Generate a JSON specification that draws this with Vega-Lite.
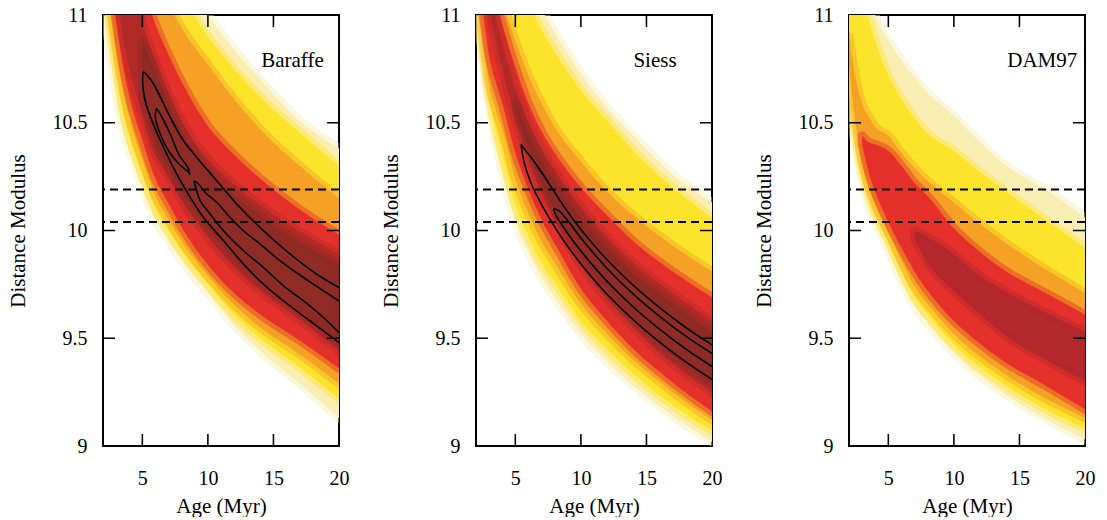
{
"$schema": "https://vega.github.io/schema/vega-lite/v6.json",
"padding": {"left": 6, "top": 4, "right": 2, "bottom": 0},
"spacing": 29,
"config": {
  "view": {"stroke": "black", "strokeWidth": 2},
  "area": {"strokeWidth": 9, "strokeOpacity": 0.45, "strokeJoin": "round"},
  "axis": {"domain": false, "ticks": false, "grid": false, "labelFont": "Liberation Serif", "labelFontSize": 20, "labelColor": "black", "labelFlush": false, "titleFont": "Liberation Serif", "titleFontSize": 21, "titleFontWeight": "normal", "titleColor": "black"}
},
"datasets": {
  "bar": [
    {"a":2,"p":11.08,"y":11.20,"o":11.30,"r":11.43,"d":11.58,"dl":11.7,"dh":11.7,"h":11.86,"rh":11.97,"oh":12.08,"yh":12.3,"ph":12.4},
    {"a":2.5,"p":10.84,"y":10.96,"o":11.06,"r":11.19,"d":11.34,"dl":11.45,"dh":11.45,"h":11.64,"rh":11.76,"oh":11.90,"yh":12.1,"ph":12.2},
    {"a":3,"p":10.64,"y":10.75,"o":10.85,"r":10.97,"d":11.12,"dl":11.25,"dh":11.25,"h":11.46,"rh":11.59,"oh":11.75,"yh":11.95,"ph":12.05},
    {"a":3.5,"p":10.48,"y":10.56,"o":10.66,"r":10.77,"d":10.91,"dl":11.1,"dh":11.1,"h":11.31,"rh":11.45,"oh":11.62,"yh":11.81,"ph":11.92},
    {"a":4,"p":10.375,"y":10.435,"o":10.525,"r":10.625,"d":10.755,"dl":10.97,"dh":10.97,"h":11.18,"rh":11.33,"oh":11.51,"yh":11.70,"ph":11.80},
    {"a":5,"p":10.20,"y":10.255,"o":10.33,"r":10.42,"d":10.545,"dl":10.62,"dh":10.88,"h":10.964,"rh":11.13,"oh":11.33,"yh":11.50,"ph":11.60},
    {"a":6,"p":10.05,"y":10.10,"o":10.16,"r":10.24,"d":10.36,"dl":10.40,"dh":10.74,"h":10.787,"rh":10.957,"oh":11.18,"yh":11.35,"ph":11.45},
    {"a":7,"p":9.95,"y":10.00,"o":10.05,"r":10.125,"d":10.25,"dl":10.29,"dh":10.59,"h":10.637,"rh":10.815,"oh":11.05,"yh":11.21,"ph":11.32},
    {"a":8,"p":9.86,"y":9.905,"o":9.95,"r":10.015,"d":10.14,"dl":10.18,"dh":10.46,"h":10.508,"rh":10.69,"oh":10.94,"yh":11.10,"ph":11.20},
    {"a":10,"p":9.71,"y":9.75,"o":9.79,"r":9.84,"d":9.97,"dl":10.01,"dh":10.28,"h":10.33,"rh":10.485,"oh":10.77,"yh":10.90,"ph":11.0},
    {"a":12,"p":9.56,"y":9.61,"o":9.655,"r":9.71,"d":9.83,"dl":9.87,"dh":10.165,"h":10.215,"rh":10.352,"oh":10.61,"yh":10.75,"ph":10.84},
    {"a":14,"p":9.44,"y":9.50,"o":9.55,"r":9.61,"d":9.72,"dl":9.76,"dh":10.067,"h":10.117,"rh":10.24,"oh":10.47,"yh":10.62,"ph":10.70},
    {"a":17,"p":9.29,"y":9.365,"o":9.425,"r":9.49,"d":9.585,"dl":9.625,"dh":9.945,"h":9.995,"rh":10.098,"oh":10.30,"yh":10.455,"ph":10.51},
    {"a":20,"p":9.13,"y":9.22,"o":9.29,"r":9.36,"d":9.44,"dl":9.48,"dh":9.84,"h":9.89,"rh":9.98,"oh":10.15,"yh":10.30,"ph":10.38}
  ],
  "sie": [
    {"a":2,"p":11.08,"y":11.12,"o":11.18,"r":11.31,"d":11.45,"dl":11.47,"dh":11.47,"h":11.50,"rh":11.59,"oh":11.66,"yh":11.95,"ph":12.09},
    {"a":2.5,"p":10.80,"y":10.84,"o":10.90,"r":11.03,"d":11.25,"dl":11.27,"dh":11.27,"h":11.29,"rh":11.39,"oh":11.47,"yh":11.77,"ph":11.9},
    {"a":3,"p":10.58,"y":10.62,"o":10.68,"r":10.81,"d":11.03,"dl":11.08,"dh":11.08,"h":11.13,"rh":11.22,"oh":11.32,"yh":11.62,"ph":11.75},
    {"a":3.5,"p":10.41,"y":10.47,"o":10.56,"r":10.69,"d":10.88,"dl":10.93,"dh":10.93,"h":10.99,"rh":11.08,"oh":11.18,"yh":11.50,"ph":11.62},
    {"a":4,"p":10.27,"y":10.35,"o":10.47,"r":10.59,"d":10.75,"dl":10.81,"dh":10.81,"h":10.87,"rh":10.96,"oh":11.07,"yh":11.39,"ph":11.51},
    {"a":5,"p":10.04,"y":10.12,"o":10.24,"r":10.36,"d":10.52,"dl":10.58,"dh":10.60,"h":10.66,"rh":10.76,"oh":10.88,"yh":11.21,"ph":11.32},
    {"a":6,"p":9.90,"y":9.975,"o":10.08,"r":10.19,"d":10.34,"dl":10.38,"dh":10.45,"h":10.50,"rh":10.59,"oh":10.72,"yh":11.06,"ph":11.16},
    {"a":7,"p":9.78,"y":9.85,"o":9.95,"r":10.05,"d":10.18,"dl":10.22,"dh":10.33,"h":10.38,"rh":10.46,"oh":10.59,"yh":10.93,"ph":11.03},
    {"a":8,"p":9.69,"y":9.76,"o":9.85,"r":9.94,"d":10.05,"dl":10.09,"dh":10.23,"h":10.28,"rh":10.36,"oh":10.48,"yh":10.83,"ph":10.92},
    {"a":10,"p":9.52,"y":9.58,"o":9.66,"r":9.73,"d":9.84,"dl":9.88,"dh":10.06,"h":10.11,"rh":10.20,"oh":10.32,"yh":10.65,"ph":10.73},
    {"a":12,"p":9.39,"y":9.45,"o":9.52,"r":9.58,"d":9.68,"dl":9.72,"dh":9.92,"h":9.97,"rh":10.07,"oh":10.18,"yh":10.51,"ph":10.57},
    {"a":14,"p":9.28,"y":9.335,"o":9.40,"r":9.45,"d":9.55,"dl":9.59,"dh":9.80,"h":9.85,"rh":9.95,"oh":10.07,"yh":10.37,"ph":10.44},
    {"a":17,"p":9.14,"y":9.19,"o":9.25,"r":9.295,"d":9.38,"dl":9.42,"dh":9.66,"h":9.71,"rh":9.81,"oh":9.93,"yh":10.20,"ph":10.26},
    {"a":20,"p":9.02,"y":9.07,"o":9.12,"r":9.16,"d":9.25,"dl":9.29,"dh":9.53,"h":9.58,"rh":9.69,"oh":9.81,"yh":10.06,"ph":10.13}
  ],
  "dam": [
    {"a":2,"p":10.64,"y":10.70,"o":10.76,"r":10.85,"d":10.85,"h":10.85,"rh":10.85,"oh":10.90,"yh":11.4,"ph":11.5},
    {"a":2.5,"p":10.38,"y":10.44,"o":10.50,"r":10.62,"d":10.62,"h":10.62,"rh":10.62,"oh":10.71,"yh":11.25,"ph":11.35},
    {"a":3,"p":10.23,"y":10.27,"o":10.32,"r":10.40,"d":10.42,"h":10.42,"rh":10.44,"oh":10.59,"yh":11.1,"ph":11.2},
    {"a":3.5,"p":10.12,"y":10.16,"o":10.20,"r":10.27,"d":10.33,"h":10.33,"rh":10.41,"oh":10.53,"yh":10.98,"ph":11.1},
    {"a":4,"p":10.04,"y":10.08,"o":10.12,"r":10.18,"d":10.29,"h":10.29,"rh":10.40,"oh":10.48,"yh":10.88,"ph":11.0},
    {"a":5,"p":9.91,"y":9.95,"o":9.99,"r":10.04,"d":10.2,"h":10.2,"rh":10.37,"oh":10.44,"yh":10.72,"ph":10.88},
    {"a":6,"p":9.77,"y":9.81,"o":9.86,"r":9.92,"d":10.08,"h":10.08,"rh":10.30,"oh":10.36,"yh":10.61,"ph":10.79},
    {"a":7,"p":9.65,"y":9.69,"o":9.74,"r":9.81,"d":9.96,"h":10.00,"rh":10.22,"oh":10.29,"yh":10.52,"ph":10.71},
    {"a":8,"p":9.57,"y":9.61,"o":9.66,"r":9.72,"d":9.85,"h":9.97,"rh":10.16,"oh":10.23,"yh":10.45,"ph":10.64},
    {"a":10,"p":9.43,"y":9.47,"o":9.52,"r":9.58,"d":9.72,"h":9.89,"rh":10.01,"oh":10.13,"yh":10.37,"ph":10.53},
    {"a":12,"p":9.325,"y":9.365,"o":9.415,"r":9.475,"d":9.61,"h":9.79,"rh":9.90,"oh":10.03,"yh":10.27,"ph":10.41},
    {"a":14,"p":9.237,"y":9.28,"o":9.33,"r":9.385,"d":9.51,"h":9.715,"rh":9.81,"oh":9.94,"yh":10.18,"ph":10.30},
    {"a":17,"p":9.125,"y":9.17,"o":9.22,"r":9.28,"d":9.40,"h":9.62,"rh":9.71,"oh":9.82,"yh":10.05,"ph":10.19},
    {"a":20,"p":9.03,"y":9.08,"o":9.13,"r":9.17,"d":9.30,"h":9.53,"rh":9.61,"oh":9.71,"yh":9.92,"ph":10.06}
  ],
  "bc": [
    {"c":1,"i":1,"a":20,"v":9.48},{"c":1,"i":2,"a":17.8,"v":9.58},{"c":1,"i":3,"a":15.77,"v":9.673},{"c":1,"i":4,"a":14.25,"v":9.75},{"c":1,"i":5,"a":12.72,"v":9.844},{"c":1,"i":6,"a":11.2,"v":9.952},{"c":1,"i":7,"a":9.67,"v":10.06},{"c":1,"i":8,"a":8.66,"v":10.153},{"c":1,"i":9,"a":7.64,"v":10.26},{"c":1,"i":10,"a":6.62,"v":10.385},{"c":1,"i":11,"a":5.73,"v":10.51},{"c":1,"i":12,"a":5.23,"v":10.6},{"c":1,"i":13,"a":5.02,"v":10.69},{"c":1,"i":14,"a":5.1,"v":10.735},{"c":1,"i":15,"a":5.3,"v":10.725},{"c":1,"i":16,"a":5.86,"v":10.68},{"c":1,"i":17,"a":7.13,"v":10.525},{"c":1,"i":18,"a":8.15,"v":10.416},{"c":1,"i":19,"a":9.16,"v":10.339},{"c":1,"i":20,"a":10.69,"v":10.23},{"c":1,"i":21,"a":12.21,"v":10.122},{"c":1,"i":22,"a":14.25,"v":9.998},{"c":1,"i":23,"a":16.28,"v":9.89},{"c":1,"i":24,"a":18.31,"v":9.797},{"c":1,"i":25,"a":20,"v":9.735},
    {"c":2,"i":1,"a":6.07,"v":10.568},{"c":2,"i":2,"a":6.37,"v":10.54},{"c":2,"i":3,"a":7.13,"v":10.447},{"c":2,"i":4,"a":7.77,"v":10.354},{"c":2,"i":5,"a":8.53,"v":10.285},{"c":2,"i":6,"a":8.61,"v":10.26},{"c":2,"i":7,"a":8.53,"v":10.27},{"c":2,"i":8,"a":7.77,"v":10.31},{"c":2,"i":9,"a":7.0,"v":10.37},{"c":2,"i":10,"a":6.37,"v":10.447},{"c":2,"i":11,"a":5.99,"v":10.525},{"c":2,"i":12,"a":6.07,"v":10.568},
    {"c":3,"i":1,"a":20,"v":9.526},{"c":3,"i":2,"a":18.82,"v":9.596},{"c":3,"i":3,"a":17.29,"v":9.673},{"c":3,"i":4,"a":15.77,"v":9.743},{"c":3,"i":5,"a":14.25,"v":9.828},{"c":3,"i":6,"a":12.72,"v":9.906},{"c":3,"i":7,"a":11.2,"v":9.998},{"c":3,"i":8,"a":10.18,"v":10.076},{"c":3,"i":9,"a":9.42,"v":10.138},{"c":3,"i":10,"a":9.04,"v":10.207},{"c":3,"i":11,"a":8.96,"v":10.23},{"c":3,"i":12,"a":9.16,"v":10.223},{"c":3,"i":13,"a":9.93,"v":10.169},{"c":3,"i":14,"a":10.69,"v":10.13},{"c":3,"i":15,"a":11.7,"v":10.06},{"c":3,"i":16,"a":12.72,"v":9.998},{"c":3,"i":17,"a":13.99,"v":9.937},{"c":3,"i":18,"a":15.52,"v":9.859},{"c":3,"i":19,"a":17.29,"v":9.782},{"c":3,"i":20,"a":18.82,"v":9.72},{"c":3,"i":21,"a":20,"v":9.673}
  ],
  "sc": [
    {"c":4,"i":1,"a":20,"v":9.309},{"c":4,"i":2,"a":18,"v":9.39},{"c":4,"i":3,"a":16,"v":9.482},{"c":4,"i":4,"a":14,"v":9.585},{"c":4,"i":5,"a":12,"v":9.704},{"c":4,"i":6,"a":10,"v":9.845},{"c":4,"i":7,"a":9,"v":9.926},{"c":4,"i":8,"a":8,"v":10.017},{"c":4,"i":9,"a":7,"v":10.12},{"c":4,"i":10,"a":6.2,"v":10.22},{"c":4,"i":11,"a":5.7,"v":10.31},{"c":4,"i":12,"a":5.5,"v":10.37},{"c":4,"i":13,"a":5.45,"v":10.40},{"c":4,"i":14,"a":5.6,"v":10.385},{"c":4,"i":15,"a":6,"v":10.355},{"c":4,"i":16,"a":7,"v":10.27},{"c":4,"i":17,"a":8,"v":10.177},{"c":4,"i":18,"a":9,"v":10.086},{"c":4,"i":19,"a":10,"v":10.005},{"c":4,"i":20,"a":12,"v":9.864},{"c":4,"i":21,"a":14,"v":9.745},{"c":4,"i":22,"a":16,"v":9.642},{"c":4,"i":23,"a":18,"v":9.55},{"c":4,"i":24,"a":20,"v":9.469},
    {"c":5,"i":1,"a":20,"v":9.369},{"c":5,"i":2,"a":18,"v":9.45},{"c":5,"i":3,"a":16,"v":9.542},{"c":5,"i":4,"a":14,"v":9.645},{"c":5,"i":5,"a":12,"v":9.764},{"c":5,"i":6,"a":10,"v":9.905},{"c":5,"i":7,"a":9,"v":9.986},{"c":5,"i":8,"a":8.5,"v":10.03},{"c":5,"i":9,"a":8.1,"v":10.07},{"c":5,"i":10,"a":7.95,"v":10.1},{"c":5,"i":11,"a":8.3,"v":10.092},{"c":5,"i":12,"a":9,"v":10.046},{"c":5,"i":13,"a":10,"v":9.965},{"c":5,"i":14,"a":12,"v":9.824},{"c":5,"i":15,"a":14,"v":9.705},{"c":5,"i":16,"a":16,"v":9.602},{"c":5,"i":17,"a":18,"v":9.51},{"c":5,"i":18,"a":20,"v":9.429}
  ],
  "dash": [{"v":10.19},{"v":10.04}],
  "tk": [
    {"x":4.94,"x2":5.06,"y":9,"y2":9.056},{"x":9.94,"x2":10.06,"y":9,"y2":9.056},{"x":14.94,"x2":15.06,"y":9,"y2":9.056},
    {"x":4.94,"x2":5.06,"y":11,"y2":10.944},{"x":9.94,"x2":10.06,"y":11,"y2":10.944},{"x":14.94,"x2":15.06,"y":11,"y2":10.944},
    {"x":2,"x2":2.92,"y":9.4965,"y2":9.5035},{"x":2,"x2":2.92,"y":9.9965,"y2":10.0035},{"x":2,"x2":2.92,"y":10.4965,"y2":10.5035},
    {"x":19.08,"x2":20,"y":9.4965,"y2":9.5035},{"x":19.08,"x2":20,"y":9.9965,"y2":10.0035},{"x":19.08,"x2":20,"y":10.4965,"y2":10.5035}
  ]
},
"hconcat": [
  {
    "width": 236, "height": 431,
    "layer": [
      {"data": {"name": "bar"}, "mark": {"type": "area", "orient": "vertical", "interpolate": "monotone", "clip": true, "color": "#f9efb4", "stroke": "#f9efb4"},
       "encoding": {"x": {"field": "a", "type": "quantitative", "scale": {"domain": [2, 20], "nice": false, "zero": false}, "axis": {"orient": "bottom", "values": [5, 10, 15, 20], "format": "~g", "title": "Age (Myr)", "labelPadding": 22, "titlePadding": 7}},
                    "y": {"field": "p", "type": "quantitative", "scale": {"domain": [9, 11], "nice": false, "zero": false}, "axis": {"orient": "left", "values": [9, 9.5, 10, 10.5, 11], "format": "~g", "title": "Distance Modulus", "labelPadding": 16, "titlePadding": 24}},
                    "y2": {"field": "ph"}}},
      {"data": {"name": "bar"}, "mark": {"type": "area", "orient": "vertical", "interpolate": "monotone", "clip": true, "color": "#fde42c", "stroke": "#fde42c"},
       "encoding": {"x": {"field": "a", "type": "quantitative"}, "y": {"field": "y", "type": "quantitative"}, "y2": {"field": "yh"}}},
      {"data": {"name": "bar"}, "mark": {"type": "area", "orient": "vertical", "interpolate": "monotone", "clip": true, "color": "#f4a126", "stroke": "#f4a126"},
       "encoding": {"x": {"field": "a", "type": "quantitative"}, "y": {"field": "o", "type": "quantitative"}, "y2": {"field": "oh"}}},
      {"data": {"name": "bar"}, "mark": {"type": "area", "orient": "vertical", "interpolate": "monotone", "clip": true, "color": "#e5312b", "stroke": "#e5312b"},
       "encoding": {"x": {"field": "a", "type": "quantitative"}, "y": {"field": "r", "type": "quantitative"}, "y2": {"field": "rh"}}},
      {"data": {"name": "bar"}, "mark": {"type": "area", "orient": "vertical", "interpolate": "monotone", "clip": true, "color": "#b22a28", "stroke": "#b22a28"},
       "encoding": {"x": {"field": "a", "type": "quantitative"}, "y": {"field": "d", "type": "quantitative"}, "y2": {"field": "h"}}},
      {"data": {"name": "bar"}, "transform": [{"filter": "datum.a >= 5"}], "mark": {"type": "area", "orient": "vertical", "interpolate": "monotone", "clip": true, "color": "#8d2b24", "stroke": "#8d2b24"},
       "encoding": {"x": {"field": "a", "type": "quantitative"}, "y": {"field": "dl", "type": "quantitative"}, "y2": {"field": "dh"}}},
      {"data": {"name": "bc"}, "mark": {"type": "line", "interpolate": "catmull-rom", "clip": true, "stroke": "black", "strokeWidth": 1.6},
       "encoding": {"x": {"field": "a", "type": "quantitative"}, "y": {"field": "v", "type": "quantitative"}, "detail": {"field": "c"}, "order": {"field": "i"}}},
      {"data": {"name": "dash"}, "mark": {"type": "rule", "color": "black", "strokeWidth": 2, "strokeDash": [8, 5]},
       "encoding": {"y": {"field": "v", "type": "quantitative"}}},
      {"data": {"values": [{}]}, "mark": {"type": "text", "text": "Baraffe", "font": "Liberation Serif", "fontSize": 21, "align": "right", "baseline": "alphabetic", "color": "black"},
       "encoding": {"x": {"datum": 18.84, "type": "quantitative"}, "y": {"datum": 10.757, "type": "quantitative"}}},
      {"data": {"name": "tk"}, "mark": {"type": "rect", "color": "#000000", "opacity": 1},
       "encoding": {"x": {"field": "x", "type": "quantitative"}, "x2": {"field": "x2"}, "y": {"field": "y", "type": "quantitative"}, "y2": {"field": "y2"}}}
    ]
  },
  {
    "width": 236, "height": 431,
    "layer": [
      {"data": {"name": "sie"}, "mark": {"type": "area", "orient": "vertical", "interpolate": "monotone", "clip": true, "color": "#f9efb4", "stroke": "#f9efb4"},
       "encoding": {"x": {"field": "a", "type": "quantitative", "scale": {"domain": [2, 20], "nice": false, "zero": false}, "axis": {"orient": "bottom", "values": [5, 10, 15, 20], "format": "~g", "title": "Age (Myr)", "labelPadding": 22, "titlePadding": 7}},
                    "y": {"field": "p", "type": "quantitative", "scale": {"domain": [9, 11], "nice": false, "zero": false}, "axis": {"orient": "left", "values": [9, 9.5, 10, 10.5, 11], "format": "~g", "title": "Distance Modulus", "labelPadding": 16, "titlePadding": 24}},
                    "y2": {"field": "ph"}}},
      {"data": {"name": "sie"}, "mark": {"type": "area", "orient": "vertical", "interpolate": "monotone", "clip": true, "color": "#fde42c", "stroke": "#fde42c"},
       "encoding": {"x": {"field": "a", "type": "quantitative"}, "y": {"field": "y", "type": "quantitative"}, "y2": {"field": "yh"}}},
      {"data": {"name": "sie"}, "mark": {"type": "area", "orient": "vertical", "interpolate": "monotone", "clip": true, "color": "#f4a126", "stroke": "#f4a126"},
       "encoding": {"x": {"field": "a", "type": "quantitative"}, "y": {"field": "o", "type": "quantitative"}, "y2": {"field": "oh"}}},
      {"data": {"name": "sie"}, "mark": {"type": "area", "orient": "vertical", "interpolate": "monotone", "clip": true, "color": "#e5312b", "stroke": "#e5312b"},
       "encoding": {"x": {"field": "a", "type": "quantitative"}, "y": {"field": "r", "type": "quantitative"}, "y2": {"field": "rh"}}},
      {"data": {"name": "sie"}, "mark": {"type": "area", "orient": "vertical", "interpolate": "monotone", "clip": true, "color": "#b22a28", "stroke": "#b22a28"},
       "encoding": {"x": {"field": "a", "type": "quantitative"}, "y": {"field": "d", "type": "quantitative"}, "y2": {"field": "h"}}},
      {"data": {"name": "sie"}, "transform": [{"filter": "datum.a >= 5"}], "mark": {"type": "area", "orient": "vertical", "interpolate": "monotone", "clip": true, "color": "#8d2b24", "stroke": "#8d2b24"},
       "encoding": {"x": {"field": "a", "type": "quantitative"}, "y": {"field": "dl", "type": "quantitative"}, "y2": {"field": "dh"}}},
      {"data": {"name": "sc"}, "mark": {"type": "line", "interpolate": "catmull-rom", "clip": true, "stroke": "black", "strokeWidth": 1.6},
       "encoding": {"x": {"field": "a", "type": "quantitative"}, "y": {"field": "v", "type": "quantitative"}, "detail": {"field": "c"}, "order": {"field": "i"}}},
      {"data": {"name": "dash"}, "mark": {"type": "rule", "color": "black", "strokeWidth": 2, "strokeDash": [8, 5]},
       "encoding": {"y": {"field": "v", "type": "quantitative"}}},
      {"data": {"values": [{}]}, "mark": {"type": "text", "text": "Siess", "font": "Liberation Serif", "fontSize": 21, "align": "right", "baseline": "alphabetic", "color": "black"},
       "encoding": {"x": {"datum": 17.3, "type": "quantitative"}, "y": {"datum": 10.757, "type": "quantitative"}}},
      {"data": {"name": "tk"}, "mark": {"type": "rect", "color": "#000000", "opacity": 1},
       "encoding": {"x": {"field": "x", "type": "quantitative"}, "x2": {"field": "x2"}, "y": {"field": "y", "type": "quantitative"}, "y2": {"field": "y2"}}}
    ]
  },
  {
    "width": 236, "height": 431,
    "layer": [
      {"data": {"name": "dam"}, "mark": {"type": "area", "orient": "vertical", "interpolate": "monotone", "clip": true, "color": "#f9efb4", "stroke": "#f9efb4"},
       "encoding": {"x": {"field": "a", "type": "quantitative", "scale": {"domain": [2, 20], "nice": false, "zero": false}, "axis": {"orient": "bottom", "values": [5, 10, 15, 20], "format": "~g", "title": "Age (Myr)", "labelPadding": 22, "titlePadding": 7}},
                    "y": {"field": "p", "type": "quantitative", "scale": {"domain": [9, 11], "nice": false, "zero": false}, "axis": {"orient": "left", "values": [9, 9.5, 10, 10.5, 11], "format": "~g", "title": "Distance Modulus", "labelPadding": 16, "titlePadding": 24}},
                    "y2": {"field": "ph"}}},
      {"data": {"name": "dam"}, "mark": {"type": "area", "orient": "vertical", "interpolate": "monotone", "clip": true, "color": "#fde42c", "stroke": "#fde42c"},
       "encoding": {"x": {"field": "a", "type": "quantitative"}, "y": {"field": "y", "type": "quantitative"}, "y2": {"field": "yh"}}},
      {"data": {"name": "dam"}, "mark": {"type": "area", "orient": "vertical", "interpolate": "monotone", "clip": true, "color": "#f4a126", "stroke": "#f4a126"},
       "encoding": {"x": {"field": "a", "type": "quantitative"}, "y": {"field": "o", "type": "quantitative"}, "y2": {"field": "oh"}}},
      {"data": {"name": "dam"}, "transform": [{"filter": "datum.a >= 3"}], "mark": {"type": "area", "orient": "vertical", "interpolate": "monotone", "clip": true, "color": "#e5312b", "stroke": "#e5312b"},
       "encoding": {"x": {"field": "a", "type": "quantitative"}, "y": {"field": "r", "type": "quantitative"}, "y2": {"field": "rh"}}},
      {"data": {"name": "dam"}, "transform": [{"filter": "datum.a >= 7"}], "mark": {"type": "area", "orient": "vertical", "interpolate": "monotone", "clip": true, "color": "#b3292d", "stroke": "#b3292d"},
       "encoding": {"x": {"field": "a", "type": "quantitative"}, "y": {"field": "d", "type": "quantitative"}, "y2": {"field": "h"}}},
      {"data": {"name": "dash"}, "mark": {"type": "rule", "color": "black", "strokeWidth": 2, "strokeDash": [8, 5]},
       "encoding": {"y": {"field": "v", "type": "quantitative"}}},
      {"data": {"values": [{}]}, "mark": {"type": "text", "text": "DAM97", "font": "Liberation Serif", "fontSize": 21, "align": "right", "baseline": "alphabetic", "color": "black"},
       "encoding": {"x": {"datum": 19.41, "type": "quantitative"}, "y": {"datum": 10.757, "type": "quantitative"}}},
      {"data": {"name": "tk"}, "mark": {"type": "rect", "color": "#000000", "opacity": 1},
       "encoding": {"x": {"field": "x", "type": "quantitative"}, "x2": {"field": "x2"}, "y": {"field": "y", "type": "quantitative"}, "y2": {"field": "y2"}}}
    ]
  }
]
}
